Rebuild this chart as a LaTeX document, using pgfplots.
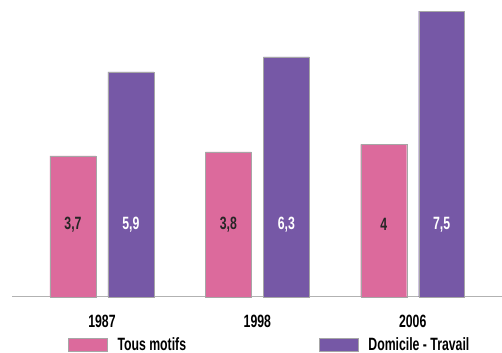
\documentclass[border=0pt]{standalone}
\usepackage{fontspec}
\setmainfont{Liberation Sans}[FakeStretch=0.69]
\usepackage{pgfplots}
\pgfplotsset{compat=1.18}
\definecolor{cpink}{RGB}{220,106,156}
\definecolor{cpurple}{RGB}{118,88,166}
\begin{document}
\begin{tikzpicture}[font=\bfseries\fontsize{17.8}{20}\selectfont]
\path (-12pt,-56pt) rectangle (490pt,297pt);
\begin{axis}[
  scale only axis, width=490pt, height=297pt,
  xmin=-0.579, xmax=2.572, ymin=0, ymax=7.79,
  axis x line*=bottom, axis y line=none,
  x axis line style={draw=gray!60, line width=0.8pt},
  xtick={0,1,2}, xticklabels={1987,1998,2006},
  major tick length=0pt,
  xticklabel style={inner sep=0pt, anchor=north, yshift=-18.5pt},
  ytick=\empty,
  /pgf/number format/assume math mode=true,
  clip=false,
  legend columns=2,
  legend style={draw=none, fill=none, inner sep=0pt, anchor=west,
    at={(axis description cs:0.1143,-0.1616)},
    nodes={inner sep=0pt, anchor=west},
    /tikz/every odd column/.append style={column sep=10pt},
    /tikz/every even column/.append style={column sep=133pt}},
  legend image code/.code={\fill[#1] (0pt,-6.5pt) rectangle (39pt,6.5pt);},
]
\addplot[ybar, bar width=0.296, bar shift=-0.1865, fill=cpink, draw=gray!70, line width=0.4pt]
  coordinates {(0,3.7) (1,3.8) (2,4.0)};
\addlegendentry{Tous motifs}
\addplot[ybar, bar width=0.296, bar shift=0.1865, fill=cpurple, draw=gray!70, line width=0.4pt]
  coordinates {(0,5.9) (1,6.3) (2,7.5)};
\addlegendentry{Domicile - Travail}
\addplot[draw=none, mark=none, nodes near coords, point meta=explicit symbolic,
  every node near coord/.append style={anchor=center, text=black!85}, forget plot]
  table[meta=label] {
x y label
-0.1865 1.89 3,7
0.8135 1.89 3,8
1.8135 1.89 4
};
\addplot[draw=none, mark=none, nodes near coords, point meta=explicit symbolic,
  every node near coord/.append style={anchor=center, text=white}, forget plot]
  table[meta=label] {
x y label
0.1865 1.89 5,9
1.1865 1.89 6,3
2.1865 1.89 7,5
};
\end{axis}
\end{tikzpicture}
\end{document}
